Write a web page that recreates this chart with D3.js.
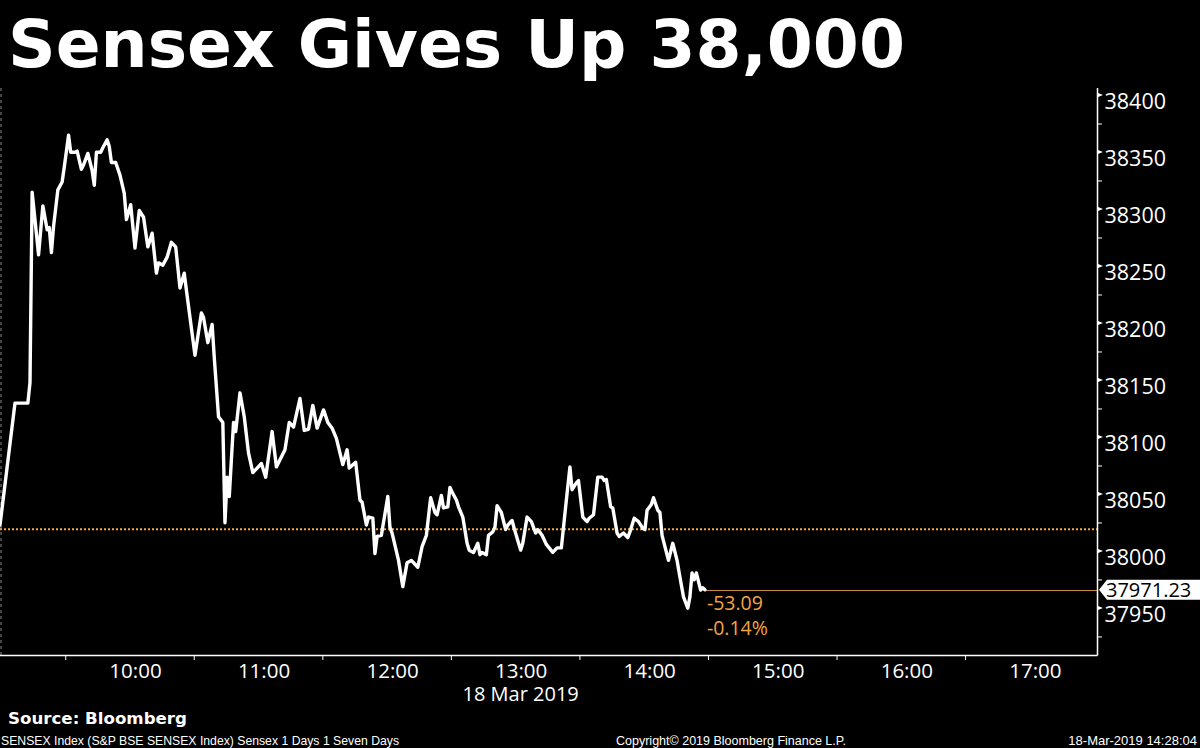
<!DOCTYPE html>
<html><head><meta charset="utf-8">
<script src="https://cdn.jsdelivr.net/npm/d3@7"></script>
<style>html,body{margin:0;padding:0;background:#000;}svg{display:block;}</style>
</head><body>
<svg id="c" width="1200" height="748"></svg>
<script>
const times = ["08:57","09:04","09:10","09:11","09:12","09:15","09:17","09:19","09:20","09:21","09:22","09:24","09:26","09:27","09:29","09:30","09:32","09:33","09:35","09:36","09:38","09:40","09:41","09:42","09:44","09:45","09:47","09:48","09:49","09:51","09:53","09:55","09:56","09:58","10:00","10:02","10:04","10:06","10:08","10:10","10:11","10:13","10:15","10:17","10:19","10:21","10:23","10:24","10:28","10:31","10:32","10:34","10:36","10:37","10:39","10:41","10:42","10:43","10:44","10:46","10:47","10:49","10:51","10:53","10:55","10:57","10:59","11:01","11:04","11:06","11:10","11:12","11:14","11:17","11:19","11:21","11:23","11:25","11:28","11:30","11:32","11:34","11:37","11:39","11:40","11:43","11:45","11:46","11:48","11:49","11:51","11:52","11:53","11:55","11:58","11:59","12:00","12:03","12:05","12:07","12:09","12:12","12:14","12:16","12:18","12:20","12:21","12:23","12:24","12:26","12:27","12:28","12:30","12:31","12:33","12:35","12:36","12:38","12:40","12:41","12:42","12:44","12:45","12:47","12:48","12:49","12:51","12:53","12:54","12:56","12:57","13:00","13:01","13:03","13:05","13:07","13:08","13:10","13:12","13:15","13:17","13:19","13:21","13:23","13:24","13:26","13:27","13:29","13:31","13:32","13:34","13:36","13:38","13:39","13:40","13:42","13:43","13:45","13:46","13:48","13:50","13:51","13:53","13:55","13:57","13:58","13:59","14:01","14:02","14:04","14:05","14:06","14:09","14:11","14:13","14:14","14:16","14:18","14:19","14:20","14:21","14:22","14:24","14:25","14:26"];
const sensex = [38028,38135,38135,38153,38320,38265,38308,38287,38289,38267,38290,38322,38329,38342,38370,38355,38355,38356,38340,38344,38354,38339,38326,38355,38355,38359,38366,38360,38346,38346,38335,38319,38296,38309,38271,38304,38298,38272,38284,38249,38258,38256,38263,38276,38272,38236,38249,38234,38177,38214,38210,38188,38204,38175,38123,38118,38030,38070,38053,38118,38110,38144,38123,38091,38074,38078,38082,38070,38110,38079,38094,38118,38114,38139,38111,38112,38133,38113,38129,38118,38113,38104,38081,38094,38078,38083,38050,38048,38028,38035,38034,38003,38018,38019,38053,38026,38021,37997,37974,37995,37997,37991,38009,38019,38052,38039,38037,38054,38043,38044,38061,38057,38050,38044,38035,38012,38006,38004,38012,38002,38004,38002,38019,38022,38026,38045,38039,38024,38028,38032,38025,38006,38012,38035,38031,38021,38024,38019,38011,38004,38008,38008,38044,38079,38059,38065,38067,38035,38031,38034,38037,38070,38070,38067,38068,38044,38043,38021,38018,38021,38017,38022,38034,38031,38025,38024,38041,38046,38052,38041,38039,38019,37997,38012,37997,37986,37965,37955,37965,37986,37980,37986,37971,37973,37971.23];
const prevClose = 38024.32;
const lastValue = 37971.23;
const change = "-53.09";
const changePct = "-0.14%";
const yTicks = [37950,38000,38050,38100,38150,38200,38250,38300,38350,38400];
const yMinorTicks = [37925,37975,38025,38075,38125,38175,38225,38275,38325,38375];
const xTickLabels = ["10:00","11:00","12:00","13:00","14:00","15:00","16:00","17:00"];
const xMinorTicks = ["09:30","10:30","11:30","12:30","13:30","14:30","15:30","16:30"];
const dateLabel = "18 Mar 2019";
const title = "Sensex Gives Up 38,000";
const source = "Source: Bloomberg";
const footLeft = "SENSEX Index (S&P BSE SENSEX Index) Sensex 1 Days 1 Seven Days";
const footMid = "Copyright\u00A9 2019 Bloomberg Finance L.P.";
const footRight = "18-Mar-2019 14:28:04";

const parse = s => { const [h,m] = s.split(":").map(Number); return new Date(2019,2,18,h,m); };
const data = times.map((t,i)=>({t:parse(t), v:sensex[i]}));

const svg = d3.select("#c");
svg.append("rect").attr("width",1200).attr("height",748).attr("fill","#000");

const L=0, R=1097, T=88, B=655;
const x = d3.scaleTime().domain([parse("08:57"), parse("17:29")]).range([L,R]);
const y = d3.scaleLinear().domain([37914, 38411.4]).range([B,T]);

const AX = "'Open Sans', 'Noto Sans', sans-serif";
const ORANGE = "#f2a445";

// title
svg.append("text").attr("x",8).attr("y",67).text(title)
  .attr("fill","#fff").attr("font-family","'DejaVu Sans', sans-serif").attr("font-weight","bold")
  .attr("font-size",66).attr("textLength",897).attr("lengthAdjust","spacingAndGlyphs");

// left dashed border
svg.append("line").attr("x1",1).attr("x2",1).attr("y1",T).attr("y2",B)
  .attr("stroke","#8a8a8a").attr("stroke-width",1).attr("stroke-dasharray","3,3");

// previous close dotted line
svg.append("line").attr("x1",L).attr("x2",R).attr("y1",y(prevClose)).attr("y2",y(prevClose))
  .attr("stroke",ORANGE).attr("stroke-width",2).attr("stroke-dasharray","2,2");

// last value line
const lastT = data[data.length-1].t;
svg.append("line").attr("x1",x(lastT)).attr("x2",R).attr("y1",Math.round(y(lastValue))+0.5).attr("y2",Math.round(y(lastValue))+0.5)
  .attr("stroke","#d08a48").attr("stroke-width",1.2);

// series line
svg.append("path").datum(data)
  .attr("d", d3.line().x(d=>x(d.t)).y(d=>y(d.v)))
  .attr("fill","none").attr("stroke","#fff").attr("stroke-width",3.4)
  .attr("stroke-linejoin","round").attr("stroke-linecap","round");

// change labels
svg.append("text").attr("x",x(lastT)+2).attr("y",y(lastValue)+20).text(change)
  .attr("fill",ORANGE).attr("font-family",AX).attr("font-size",19.5);
svg.append("text").attr("x",x(lastT)+2).attr("y",y(lastValue)+45).text(changePct)
  .attr("fill",ORANGE).attr("font-family",AX).attr("font-size",19.5);

// frame: bottom and right
svg.append("line").attr("x1",L).attr("x2",R+0.5).attr("y1",B+0.5).attr("y2",B+0.5).attr("stroke","#fff").attr("stroke-width",1.5);
svg.append("line").attr("x1",R+0.5).attr("x2",R+0.5).attr("y1",T).attr("y2",B+0.5).attr("stroke","#fff").attr("stroke-width",1.5);

// y axis
const yAxis = svg.append("g").attr("transform",`translate(${R+0.5},0)`)
  .call(d3.axisRight(y).tickValues(yTicks).tickSize(0).tickPadding(7).tickFormat(d3.format("d")));
yAxis.select(".domain").remove();
yAxis.selectAll("text").attr("fill","#fff").attr("font-family",AX).attr("font-size",21.5).attr("dy","0.36em");
svg.append("g").selectAll("path").data(yTicks).join("path")
  .attr("d", d=>`M${R+1},${y(d)-8} L${R+6},${y(d)-6} L${R+1},${y(d)-4} Z`).attr("fill","#fff");
svg.append("g").selectAll("line").data(yMinorTicks).join("line")
  .attr("x1",R+1).attr("x2",R+5).attr("y1",d=>y(d)-5.5).attr("y2",d=>y(d)-5.5)
  .attr("stroke","#fff").attr("stroke-width",1);

// last value tag
const ly = y(lastValue);
svg.append("path").attr("d",`M${R+2},${ly} L${R+10},${ly-10} L1200,${ly-10} L1200,${ly+10} L${R+10},${ly+10} Z`).attr("fill","#fff");
svg.append("text").attr("x",R+9).attr("y",ly).attr("dy","0.35em").text(d3.format(".2f")(lastValue))
  .attr("fill","#000").attr("font-family",AX).attr("font-size",20);

// x axis
const xAxis = svg.append("g").attr("transform",`translate(0,${B})`)
  .call(d3.axisBottom(x).tickValues(xTickLabels.map(parse)).tickSize(0).tickPadding(8).tickFormat(d3.timeFormat("%H:%M")));
xAxis.select(".domain").remove();
xAxis.selectAll("text").attr("fill","#fff").attr("font-family",AX).attr("font-size",20.5);
svg.append("g").selectAll("line").data(xMinorTicks.map(parse)).join("line")
  .attr("x1",d=>x(d)-5).attr("x2",d=>x(d)-5).attr("y1",B).attr("y2",B+5)
  .attr("stroke","#fff").attr("stroke-width",1);

svg.append("text").attr("x",x(parse("13:00"))).attr("y",701).attr("text-anchor","middle").text(dateLabel)
  .attr("fill","#fff").attr("font-family",AX).attr("font-size",20);

// footer
svg.append("text").attr("x",8).attr("y",724).text(source)
  .attr("fill","#fff").attr("font-family","'DejaVu Sans', sans-serif").attr("font-weight","bold")
  .attr("font-size",16).attr("textLength",179).attr("lengthAdjust","spacingAndGlyphs");
svg.append("text").attr("x",1).attr("y",745).text(footLeft)
  .attr("fill","#fff").attr("font-family","'Liberation Sans', Arial, sans-serif").attr("font-size",13)
  .attr("textLength",398).attr("lengthAdjust","spacingAndGlyphs");
svg.append("text").attr("x",616).attr("y",745).text(footMid)
  .attr("fill","#fff").attr("font-family","'Liberation Sans', Arial, sans-serif").attr("font-size",13)
  .attr("textLength",230).attr("lengthAdjust","spacingAndGlyphs");
svg.append("text").attr("x",1197).attr("y",745).attr("text-anchor","end").text(footRight)
  .attr("fill","#fff").attr("font-family","'Liberation Sans', Arial, sans-serif").attr("font-size",13);
</script>
</body></html>
